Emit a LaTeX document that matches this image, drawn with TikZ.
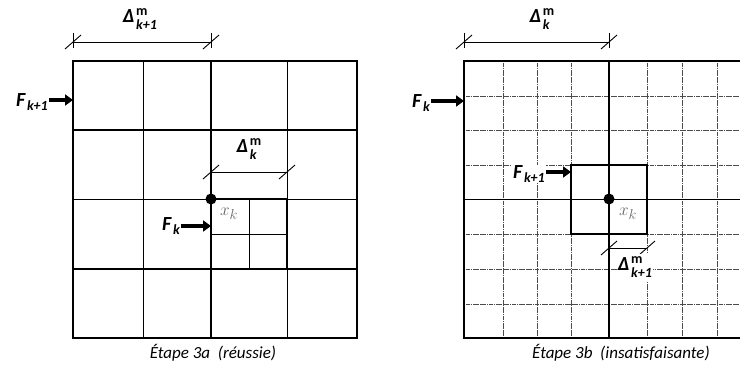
\documentclass[tikz,border=0pt]{standalone}
\usepackage{fontspec}
\setmainfont{Carlito}
\usetikzlibrary{arrows.meta}

\newcommand{\grand}{\fontsize{20}{20}\selectfont}
\newcommand{\petit}{\fontsize{14}{14}\selectfont}
\newcommand{\Dlab}[1]{{\grand Δ}\,\begin{tabular}{@{}l@{}}{\petit\upshape m}\\[1pt]{\petit #1}\end{tabular}}
\newcommand{\Flab}[1]{{\grand F}\,\raisebox{-4pt}{\petit #1}}

\begin{document}
\begin{tikzpicture}[x=1pt, y=-1pt, line cap=rect,
    thin line/.style={line width=0.9pt},
    thick line/.style={line width=1.9pt},
    fine mesh/.style={line width=0.8pt, dash pattern=on 1pt off 1.3pt, black!70},
    cote/.style={line width=0.9pt, line cap=butt},
    fleche/.style={line width=3.2pt, line cap=butt, -{Triangle[length=8pt,width=11pt]}},
    lbl/.style={font=\bfseries\itshape, inner sep=1pt, fill=white},
    point/.style={circle, fill, inner sep=0pt, minimum size=11pt},
    legende/.style={font=\fontsize{17}{17}\selectfont\itshape}]
    \useasboundingbox (0,0) rectangle (740,365);
    % grille gauche : etape 3a
    \foreach \x in {143,287} \draw[thin line] (\x,61) -- (\x,338);
    \draw[thin line] (73,199) -- (357,199);
    \foreach \y in {130,269} \draw[thick line] (73,\y) -- (357,\y);
    \draw[thick line] (211,61) -- (211,338);
    \draw[thick line] (73,61) rectangle (357,338);
    % maille raffinee autour de x_k
    \draw[thin line] (249,199) -- (249,269);
    \draw[thin line] (211,234) -- (287,234);
    \draw[thick line] (211,199) rectangle (287,269);
    % grille droite : etape 3b (coupee au bord)
    \begin{scope}
        \clip (0,0) rectangle (740,365);
        \foreach \x in {503,537,571,647,682,717} \draw[fine mesh] (\x,61) -- (\x,338);
        \foreach \y in {96,130,165,234,269,304} \draw[fine mesh] (464,\y) -- (752,\y);
        \draw[thin line] (464,199) -- (752,199);
        \draw[thick line] (609,61) -- (609,338);
        \draw[thick line] (752,61) -- (464,61) -- (464,338) -- (752,338);
        \draw[thick line] (571,165) rectangle (647,234);
    \end{scope}
    % cotes avec traits verticaux
    \coordinate (a1) at (73,42);  \coordinate (a2) at (211,42);
    \coordinate (b1) at (464,42); \coordinate (b2) at (609,42);
    \draw[cote] (a1) -- (a2);
    \draw[cote] (b1) -- (b2);
    \foreach \c in {a1,a2,b1,b2}
        \draw[cote] ([shift={(0,-9)}]\c) -- ([shift={(0,6)}]\c);
    % cotes sans traits verticaux
    \coordinate (c1) at (211,172); \coordinate (c2) at (287,172);
    \coordinate (d1) at (609,248); \coordinate (d2) at (647,248);
    \draw[cote] (c1) -- (c2);
    \draw[cote] (d1) -- (d2);
    \foreach \c in {a1,a2,b1,b2,c1,c2,d1,d2}
        \draw[cote] ([shift={(-8,7)}]\c) -- ([shift={(8,-7)}]\c);
    % points x_k
    \node[point] (ptA) at (211,199) {};
    \node[point] (ptB) at (609,199) {};
    \node[text=black!60, font=\fontsize{19}{19}\selectfont] (xA) at (229,214) {$x_k$};
    \node[text=black!60, font=\fontsize{19}{19}\selectfont] (xB) at (628,214) {$x_k$};
    % etiquettes des pas
    \node[lbl] (dA) at (140,20)  {\Dlab{k+1}};
    \node[lbl] (dB) at (249,150) {\Dlab{k}};
    \node[lbl] (dC) at (542,20)  {\Dlab{k}};
    \node[lbl] (dD) at (635,268) {\Dlab{k+1}};
    % fleches F
    \coordinate (fA') at (73,100);
    \coordinate (fB') at (211,226);
    \coordinate (fC') at (464,101);
    \coordinate (fD') at (571,172);
    \node[lbl, anchor=east] (fA) at (49,102)  {\Flab{k+1}};
    \node[lbl, anchor=east] (fB) at (181,226) {\Flab{k}};
    \node[lbl, anchor=east] (fC) at (431,103) {\Flab{k}};
    \node[lbl, anchor=east] (fD) at (546,174) {\Flab{k+1}};
    \draw[fleche] (fA.east |- fA') -- (fA');
    \draw[fleche] (fB.east |- fB') -- (fB');
    \draw[fleche] (fC.east |- fC') -- (fC');
    \draw[fleche] (fD.east |- fD') -- (fD');
    % legendes
    \node[legende] (lA) at (213,353) {Étape 3a~~(réussie)};
    \node[legende] (lB) at (621,353) {Étape 3b~~(insatisfaisante)};
\end{tikzpicture}
\end{document}
